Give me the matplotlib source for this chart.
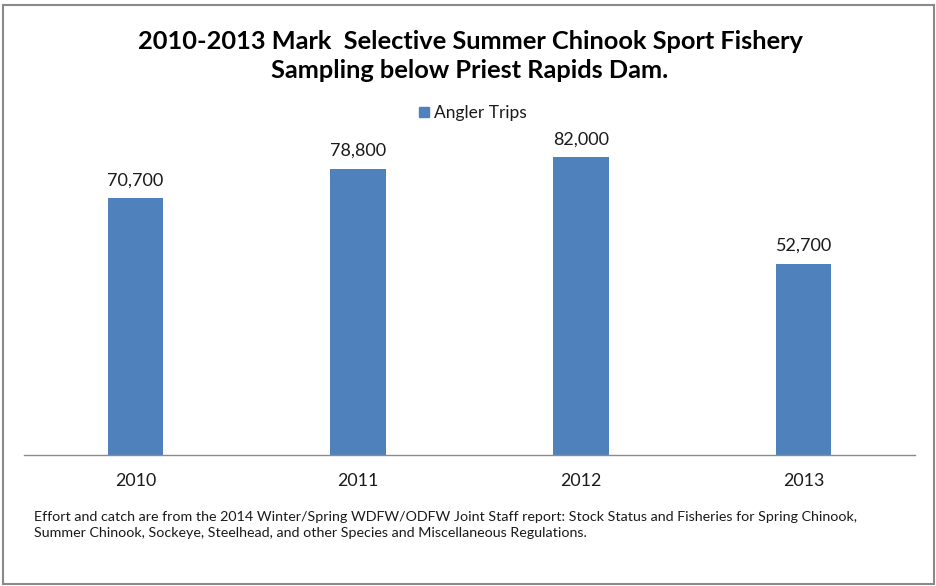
import matplotlib
matplotlib.use("Agg")
import matplotlib.pyplot as plt
from matplotlib.patches import Rectangle

years = ["2010", "2011", "2012", "2013"]
angler_trips = [70700, 78800, 82000, 52700]

title = "2010-2013 Mark  Selective Summer Chinook Sport Fishery\nSampling below Priest Rapids Dam."
note = ("Effort and catch are from the 2014 Winter/Spring WDFW/ODFW Joint Staff report: "
        "Stock Status and Fisheries for Spring Chinook,\n"
        "Summer Chinook, Sockeye, Steelhead, and other Species and Miscellaneous Regulations.")

bar_color = "#4F81BD"
text_color = "#1a1a1a"

plt.rcParams["font.family"] = ["Lato", "DejaVu Sans"]

W, H = 936, 586
fig = plt.figure(figsize=(W / 100, H / 100), dpi=100)
ax = fig.add_axes([24 / W, 1 - 455 / H, 891 / W, 327 / H])

x = range(len(years))
bars = ax.bar(x, angler_trips, width=0.25, color=bar_color)
for b, v in zip(bars, angler_trips):
    ax.annotate(f"{v:,}", (b.get_x() + b.get_width() / 2, v), xytext=(0, 7),
                textcoords="offset points", ha="center", va="bottom",
                fontsize=13, color=text_color)

ax.set_xlim(-0.5, len(years) - 0.5)
ax.set_ylim(0, 90000)
ax.set_xticks(list(x))
ax.set_xticklabels(years, fontsize=12.8, color=text_color)
ax.tick_params(axis="x", length=0, pad=13)
ax.set_yticks([])
for side in ["left", "right", "top"]:
    ax.spines[side].set_visible(False)
ax.spines["bottom"].set_color("#8c8c8c")
ax.spines["bottom"].set_linewidth(1.0)

fig.text(470 / W, 1 - 56 / H, title, ha="center", va="center", fontsize=18.3,
         fontweight="bold", color="black", linespacing=1.35)

# legend entry above the bars
fig.patches.append(Rectangle((419 / W, 1 - 117 / H), 10 / W, 10 / H,
                             transform=fig.transFigure, color=bar_color))
fig.text(434 / W, 1 - 113 / H, "Angler Trips", ha="left", va="center",
         fontsize=12.5, color=text_color)

fig.text(34 / W, 1 - 525 / H, note, ha="left", va="center", fontsize=10.3,
         color=text_color, linespacing=1.45)

# chart frame
fig.patches.append(Rectangle((3 / W, 1 - 584 / H), 931 / W, 579 / H,
                             transform=fig.transFigure, fill=False,
                             edgecolor="#8a8a8a", linewidth=1.5))

fig.savefig("out.png", dpi=100)
